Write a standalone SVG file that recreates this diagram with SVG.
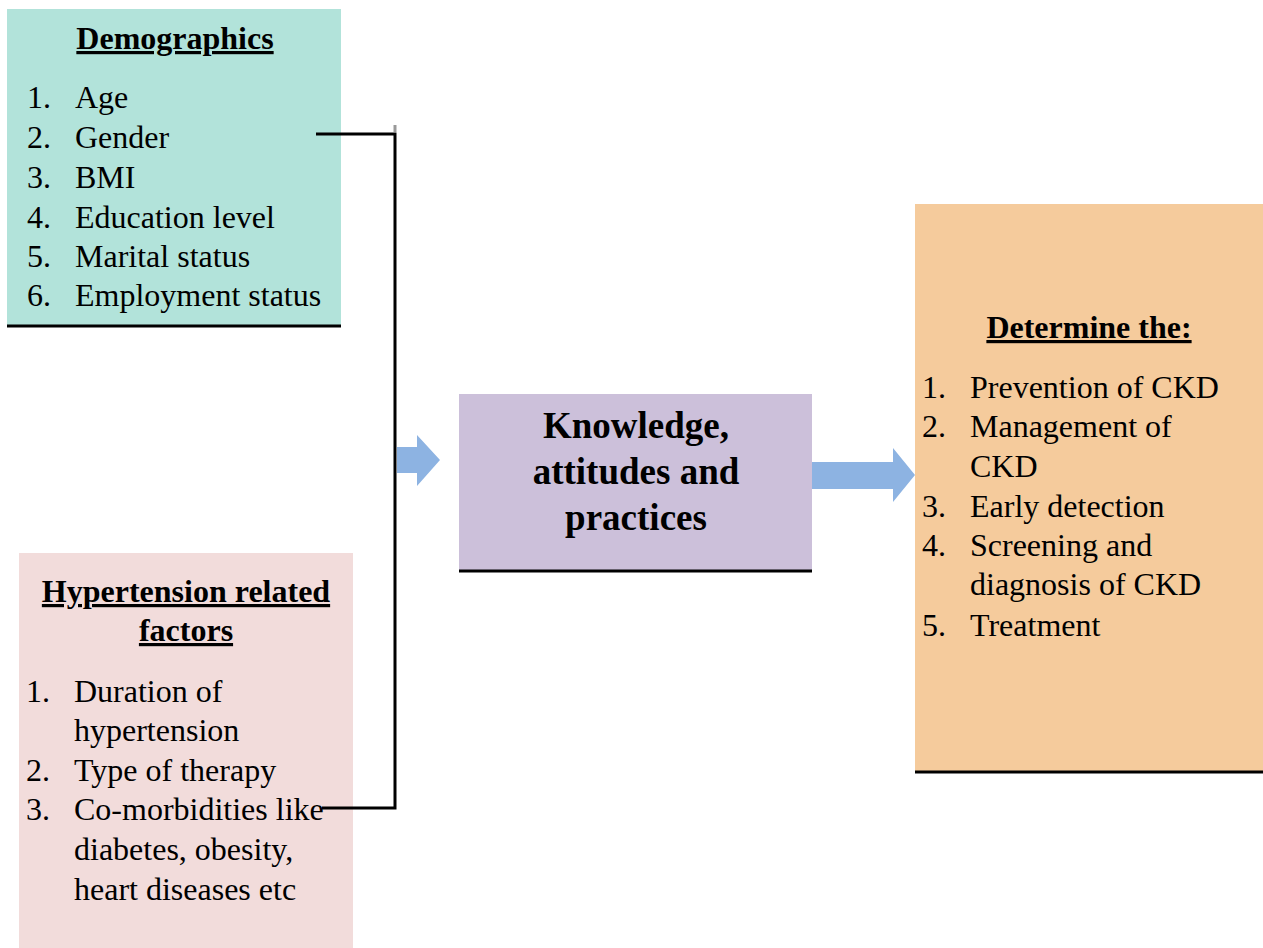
<svg xmlns="http://www.w3.org/2000/svg" width="1263" height="948" viewBox="0 0 1263 948">
<style>
.t{font-family:"Liberation Serif","Times New Roman",serif;font-size:32px;fill:#000}
.b{font-weight:bold}
.u{text-decoration:underline}
.m{text-anchor:middle}
.edge{fill:none;stroke:#000;stroke-width:3}
.arrow{fill:#8db3e2}
.base{stroke:#000;stroke-width:3}
</style>
<rect width="1263" height="948" fill="#fff"/>
<g id="demographics">
<rect x="7" y="9" width="334" height="317" fill="#b2e3da"/>
<line class="base" x1="7" y1="326" x2="341" y2="326"/>
<text class="t b u m" x="175" y="49">Demographics</text>
<text class="t" x="27" y="108">1.</text><text class="t" x="75" y="108">Age</text>
<text class="t" x="27" y="148">2.</text><text class="t" x="75" y="148">Gender</text>
<text class="t" x="27" y="188">3.</text><text class="t" x="75" y="188">BMI</text>
<text class="t" x="27" y="228">4.</text><text class="t" x="75" y="228">Education level</text>
<text class="t" x="27" y="267">5.</text><text class="t" x="75" y="267">Marital status</text>
<text class="t" x="27" y="306">6.</text><text class="t" x="75" y="306">Employment status</text>
</g>
<g id="hypertension">
<rect x="19" y="553" width="334" height="395" fill="#f2dcdb"/>
<text class="t b u m" x="186" y="602">Hypertension related</text>
<text class="t b u m" x="186" y="641">factors</text>
<text class="t" x="26" y="702">1.</text><text class="t" x="74" y="702">Duration of</text>
<text class="t" x="74" y="741">hypertension</text>
<text class="t" x="26" y="781">2.</text><text class="t" x="74" y="781">Type of therapy</text>
<text class="t" x="26" y="820">3.</text><text class="t" x="74" y="820">Co-morbidities like</text>
<text class="t" x="74" y="860">diabetes, obesity,</text>
<text class="t" x="74" y="900">heart diseases etc</text>
</g>
<g id="kap">
<rect x="459" y="394" width="353" height="177" fill="#ccc0da"/>
<line class="base" x1="459" y1="571" x2="812" y2="571"/>
<text class="t b m" style="font-size:37px" x="636" y="438">Knowledge,</text>
<text class="t b m" style="font-size:37px" x="636" y="484">attitudes and</text>
<text class="t b m" style="font-size:37px" x="636" y="530">practices</text>
</g>
<g id="outcomes">
<rect x="915" y="204" width="348" height="568" fill="#f5cb9c"/>
<line class="base" x1="915" y1="772" x2="1263" y2="772"/>
<text class="t b u m" x="1089" y="338">Determine the:</text>
<text class="t" x="922" y="398">1.</text><text class="t" x="970" y="398">Prevention of CKD</text>
<text class="t" x="922" y="437">2.</text><text class="t" x="970" y="437">Management of</text>
<text class="t" x="970" y="477">CKD</text>
<text class="t" x="922" y="517">3.</text><text class="t" x="970" y="517">Early detection</text>
<text class="t" x="922" y="556">4.</text><text class="t" x="970" y="556">Screening and</text>
<text class="t" x="970" y="595">diagnosis of CKD</text>
<text class="t" x="922" y="636">5.</text><text class="t" x="970" y="636">Treatment</text>
</g>
<g id="connectors">
<polyline class="edge" points="316,134 395,134 395,808 322,808"/>
<line x1="395" y1="125" x2="395" y2="132" stroke="#999" stroke-width="3"/>
<polygon class="arrow" points="397,447 417,447 417,435 440,460 417,486 417,473 397,473"/>
<polygon class="arrow" points="812,462 893,462 893,448 915,475 893,502 893,489 812,489"/>
</g>
</svg>
